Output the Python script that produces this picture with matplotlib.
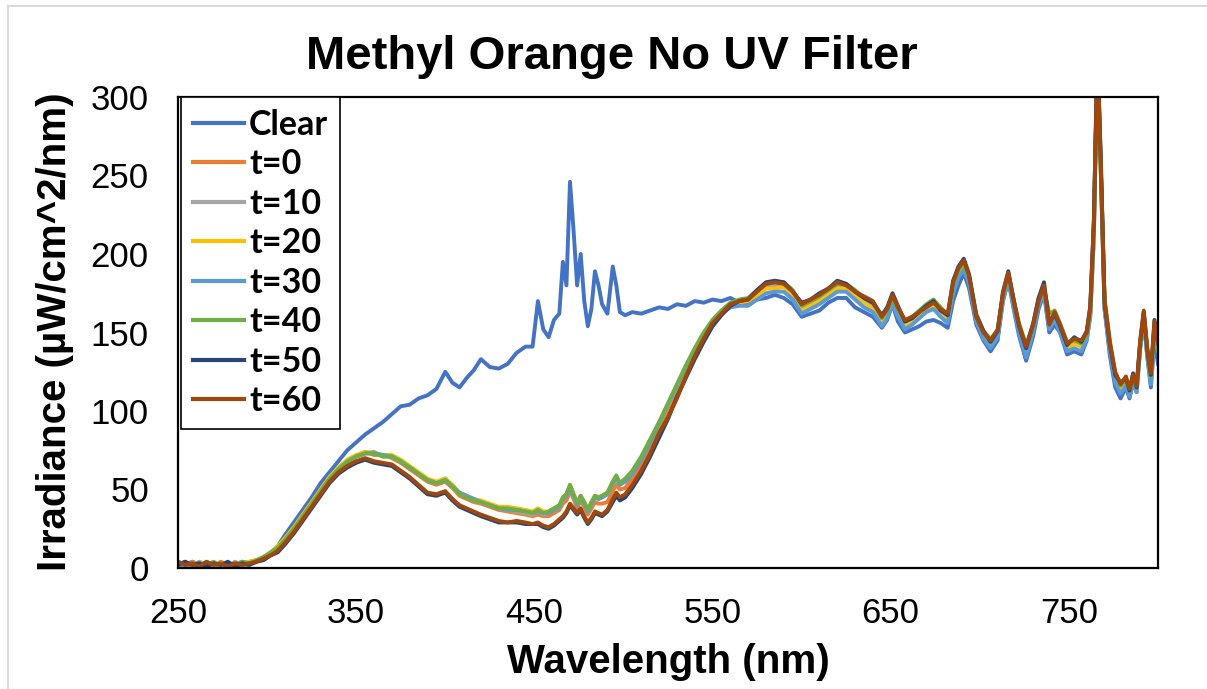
"""Methyl Orange, irradiance spectra without UV filter (Clear + t=0..60)."""

import matplotlib
matplotlib.use("Agg")
import matplotlib.pyplot as plt
from matplotlib.lines import Line2D

# wavelength grid (nm), denser around the emission lines
wavelength = [
    250, 254, 258, 262, 266, 270, 274, 278, 282, 286,
    290, 294, 298, 302, 306, 310, 315, 320, 325, 330,
    335, 340, 345, 350, 355, 360, 365, 370, 375, 380,
    385, 390, 395, 400, 404, 408, 412, 416, 420, 425,
    430, 435, 440, 445, 449, 452, 455, 458, 461, 464,
    466, 468, 470, 472, 474, 476, 478, 480, 482, 484,
    486, 488, 491, 494, 496, 498, 501, 505, 510, 515,
    520, 525, 530, 535, 540, 545, 550, 555, 560, 565,
    570, 575, 580, 585, 590, 595, 600, 605, 610, 615,
    620, 625, 630, 635, 640, 645, 648, 651, 654, 658,
    662, 666, 670, 674, 678, 682, 685, 688, 691, 694,
    698, 702, 706, 710, 713, 716, 719, 722, 726, 730,
    733, 736, 739, 742, 745, 749, 753, 757, 760, 762,
    764, 766, 768, 770, 773, 776, 779, 782, 784, 786,
    788, 790, 792, 794, 796, 798, 800,
]

clear = [
    3, 1, 4, 2, 3, 1, 2, 3, 2, 4,
    3, 4, 6, 9, 14, 21, 29, 37, 45, 54,
    61, 68, 75, 80, 85, 89, 93, 98, 103, 104,
    108, 110, 114, 125, 118, 115, 121, 126, 133, 128,
    127, 130, 137, 141, 141, 170, 152, 147, 158, 162,
    195, 180, 246, 215, 180, 200, 170, 154, 165, 189,
    180, 168, 162, 192, 180, 163, 161, 163, 162, 164,
    166, 165, 168, 167, 170, 169, 171, 170, 172, 169,
    168, 171, 172, 174, 172, 168, 160, 162, 164, 169,
    172, 172, 166, 163, 160, 153, 158, 168, 157, 150,
    152, 154, 157, 158, 156, 153, 170, 180, 188, 178,
    155, 145, 138, 145, 170, 183, 165, 148, 132, 148,
    165, 175, 150, 155, 150, 136, 138, 136, 145, 160,
    210, 330, 250, 165, 135, 115, 108, 115, 108, 118,
    112, 140, 158, 135, 115, 145, 130,
]

t0 = [
    3, 2, 4, 2, 3, 1, 4, 2, 3, 1,
    4, 5, 6, 9, 12, 17, 24, 32, 40, 48,
    56, 62, 67, 71, 74, 72, 72, 70, 67, 63,
    59, 55, 53, 55, 51, 46, 44, 42, 41, 39,
    37, 36, 35, 34, 33, 34, 33, 33, 35, 37,
    41, 43, 49, 44, 38, 43, 39, 34, 38, 42,
    41, 41, 42, 49, 53, 50, 51, 57, 66, 77,
    89, 101, 114, 126, 137, 148, 157, 163, 168, 170,
    171, 175, 179, 180, 180, 174, 165, 168, 171, 175,
    179, 179, 174, 170, 166, 157, 162, 171, 163, 155,
    157, 161, 165, 168, 163, 159, 178, 188, 193, 183,
    159, 149, 143, 150, 173, 186, 169, 153, 139, 154,
    170, 178, 154, 161, 153, 141, 144, 142, 148, 164,
    216, 325, 250, 168, 141, 122, 115, 119, 112, 121,
    114, 142, 161, 137, 121, 154, 141,
]

t10 = [
    1, 3, 2, 4, 2, 3, 2, 1, 4, 2,
    3, 4, 7, 9, 13, 18, 25, 33, 41, 49,
    57, 63, 68, 71, 73, 74, 71, 71, 68, 64,
    60, 56, 54, 57, 52, 47, 45, 43, 42, 40,
    38, 37, 36, 35, 34, 36, 34, 35, 37, 39,
    44, 46, 52, 46, 40, 45, 41, 36, 41, 45,
    44, 45, 47, 54, 58, 53, 56, 61, 70, 81,
    92, 104, 116, 128, 139, 149, 158, 164, 168, 170,
    171, 175, 179, 180, 180, 175, 165, 168, 171, 175,
    180, 179, 175, 170, 167, 157, 162, 171, 163, 155,
    158, 162, 166, 169, 164, 159, 178, 189, 193, 184,
    160, 149, 143, 149, 173, 186, 169, 153, 138, 154,
    170, 178, 155, 161, 153, 141, 143, 141, 147, 163,
    215, 325, 250, 168, 141, 121, 114, 118, 111, 120,
    113, 141, 160, 136, 120, 153, 140,
]

t20 = [
    4, 2, 3, 1, 4, 2, 3, 2, 1, 3,
    4, 5, 7, 10, 14, 19, 26, 34, 42, 50,
    58, 64, 69, 72, 74, 73, 72, 72, 69, 65,
    61, 57, 55, 57, 53, 48, 46, 44, 43, 41,
    39, 39, 38, 37, 36, 38, 36, 36, 38, 40,
    45, 47, 53, 47, 41, 46, 42, 37, 42, 46,
    45, 46, 48, 55, 58, 54, 56, 61, 70, 81,
    92, 104, 116, 128, 139, 149, 157, 163, 167, 169,
    170, 174, 178, 178, 179, 173, 164, 167, 170, 174,
    178, 178, 173, 169, 165, 156, 161, 170, 162, 154,
    157, 161, 165, 167, 163, 158, 177, 188, 192, 183,
    159, 148, 142, 149, 172, 185, 168, 152, 138, 153,
    169, 177, 154, 160, 152, 140, 143, 141, 147, 163,
    214, 322, 248, 167, 140, 121, 114, 117, 111, 119,
    113, 141, 160, 136, 120, 152, 139,
]

t30 = [
    2, 1, 3, 2, 1, 3, 1, 2, 3, 1,
    2, 4, 6, 9, 12, 17, 24, 32, 40, 48,
    56, 62, 67, 71, 73, 73, 72, 71, 68, 64,
    60, 56, 54, 56, 52, 48, 46, 44, 42, 40,
    38, 37, 37, 36, 35, 36, 35, 35, 37, 39,
    44, 46, 51, 46, 40, 45, 41, 36, 41, 45,
    44, 45, 47, 54, 57, 53, 55, 60, 69, 80,
    92, 104, 116, 128, 139, 149, 157, 162, 166, 167,
    167, 171, 175, 176, 176, 171, 162, 165, 168, 172,
    176, 176, 171, 166, 163, 154, 159, 168, 160, 152,
    155, 159, 163, 165, 160, 156, 175, 185, 190, 181,
    157, 146, 140, 147, 171, 184, 166, 150, 134, 151,
    167, 176, 152, 158, 150, 138, 140, 138, 146, 162,
    213, 322, 248, 165, 138, 118, 111, 116, 109, 119,
    112, 140, 159, 134, 117, 150, 138,
]

t40 = [
    2, 4, 1, 3, 2, 4, 1, 3, 2, 4,
    3, 5, 7, 10, 13, 18, 25, 33, 41, 49,
    57, 63, 68, 71, 73, 73, 71, 71, 68, 64,
    60, 56, 54, 56, 52, 47, 45, 43, 42, 40,
    38, 38, 37, 36, 35, 37, 35, 36, 38, 40,
    45, 47, 53, 47, 41, 46, 42, 37, 42, 46,
    45, 46, 48, 55, 59, 54, 57, 62, 71, 82,
    93, 105, 117, 129, 140, 150, 158, 164, 169, 171,
    172, 177, 181, 182, 182, 177, 167, 170, 173, 177,
    181, 181, 177, 172, 169, 159, 164, 172, 165, 157,
    160, 164, 168, 171, 166, 161, 180, 190, 194, 185,
    162, 151, 146, 151, 174, 187, 171, 156, 142, 156,
    172, 178, 162, 164, 156, 144, 145, 143, 149, 165,
    218, 325, 252, 172, 145, 124, 116, 120, 113, 121,
    115, 143, 162, 138, 122, 153, 140,
]

t50 = [
    2, 4, 2, 3, 1, 3, 2, 4, 1, 3,
    2, 4, 5, 8, 10, 15, 22, 30, 38, 46,
    54, 60, 64, 67, 69, 67, 66, 65, 61, 57,
    52, 47, 46, 48, 43, 39, 37, 35, 33, 31,
    29, 29, 29, 28, 28, 28, 26, 25, 27, 30,
    32, 35, 40, 37, 34, 37, 32, 28, 31, 35,
    34, 33, 36, 42, 46, 43, 45, 51, 60, 71,
    83, 95, 109, 121, 133, 144, 154, 161, 167, 170,
    171, 177, 182, 183, 182, 176, 169, 171, 175, 178,
    183, 181, 176, 172, 169, 161, 166, 175, 167, 157,
    159, 163, 167, 170, 164, 161, 183, 192, 197, 187,
    161, 151, 144, 151, 176, 189, 171, 154, 140, 156,
    172, 182, 156, 162, 154, 142, 147, 144, 151, 167,
    222, 330, 256, 169, 142, 123, 118, 121, 113, 124,
    115, 144, 163, 139, 123, 158, 144,
]

t60 = [
    4, 2, 3, 1, 4, 2, 3, 1, 3, 2,
    3, 4, 6, 8, 11, 16, 23, 31, 39, 47,
    55, 61, 65, 68, 70, 68, 67, 66, 62, 58,
    53, 48, 47, 49, 44, 40, 38, 36, 34, 32,
    30, 29, 30, 29, 28, 29, 27, 26, 28, 31,
    33, 36, 41, 38, 35, 38, 33, 29, 32, 36,
    35, 34, 37, 44, 48, 45, 47, 53, 62, 73,
    86, 96, 108, 122, 135, 146, 156, 162, 168, 170,
    171, 176, 181, 182, 181, 176, 168, 171, 174, 178,
    182, 180, 176, 173, 170, 160, 165, 174, 166, 158,
    160, 163, 166, 169, 165, 162, 182, 191, 196, 186,
    160, 150, 145, 152, 175, 188, 170, 155, 141, 155,
    170, 180, 155, 163, 155, 143, 146, 145, 150, 166,
    220, 330, 255, 170, 143, 125, 117, 122, 114, 123,
    116, 145, 164, 140, 124, 157, 143,
]

labels = ["Clear", "t=0", "t=10", "t=20", "t=30", "t=40", "t=50", "t=60"]
colors = ["#4472C4", "#ED7D31", "#A5A5A5", "#FFC000",
          "#5B9BD5", "#70AD47", "#264478", "#9E480E"]
series = [clear, t0, t10, t20, t30, t40, t50, t60]

W, H = 1207, 689
fig = plt.figure(figsize=(W / 100, H / 100), dpi=100)

# cadre gris clair de l'export
fig.add_artist(Line2D([8 / W, 1], [1 - 6 / H, 1 - 6 / H], color="#d9d9d9", lw=1.5))
fig.add_artist(Line2D([8 / W, 8 / W], [0, 1 - 6 / H], color="#d9d9d9", lw=1.5))

ax = fig.add_axes([178 / W, 1 - 568 / H, (1158 - 178) / W, (568 - 97) / H])
for lab, vals, col in zip(labels, series, colors):
    ax.plot(wavelength, vals, color=col, lw=2.8, label=lab)

ax.set_xlim(250, 800)
ax.set_ylim(0, 300)
ax.set_xticks(range(250, 800, 100))
ax.set_yticks(range(0, 301, 50))
ax.tick_params(length=0, labelsize=25, pad=21)
for t in ax.get_xticklabels() + ax.get_yticklabels():
    t.set_family("Liberation Sans")
for s in ax.spines.values():
    s.set_linewidth(1.6)
    s.set_color("black")

leg = ax.legend(loc="upper left", bbox_to_anchor=(0.003, 1.0), frameon=True,
                fancybox=False, framealpha=1, edgecolor="black",
                prop={"family": "Lato", "weight": "bold", "size": 24.5},
                handlelength=1.5, handletextpad=0.15, labelspacing=0.22,
                borderpad=0.35, borderaxespad=0)
leg.get_frame().set_linewidth(1.2)
for h in leg.get_lines():
    h.set_linewidth(3.0)

fig.text(612 / W, 1 - 57 / H, "Methyl Orange No UV Filter", ha="center", va="center",
         family="Liberation Sans", weight="bold", fontsize=34)
fig.text(668 / W, 1 - 662 / H, "Wavelength (nm)", ha="center", va="center",
         family="Liberation Sans", weight="bold", fontsize=29)
fig.text(55 / W, 1 - 332 / H, "Irradiance (µW/cm^2/nm)", ha="center", va="center",
         rotation=90, family="Liberation Sans", weight="bold", fontsize=29)

fig.savefig("out.png", dpi=100)
